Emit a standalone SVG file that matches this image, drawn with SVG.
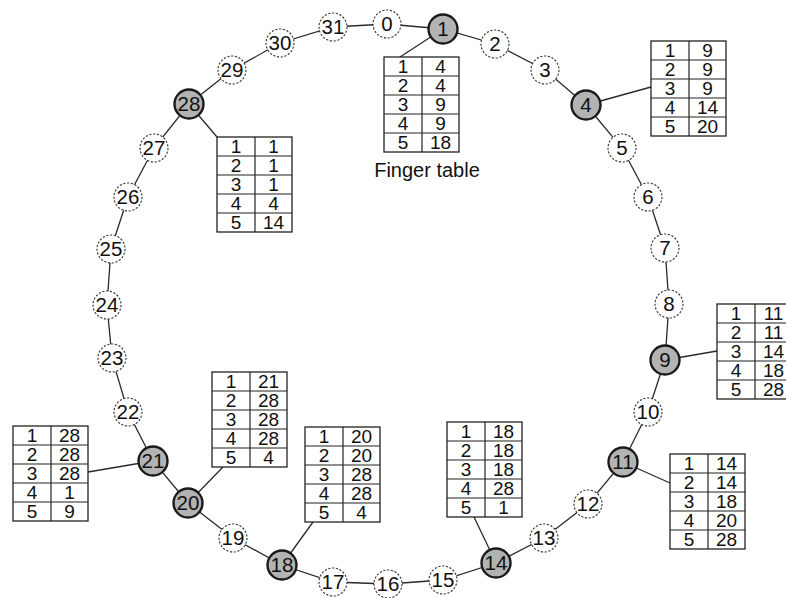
<svg xmlns="http://www.w3.org/2000/svg" width="786" height="598" viewBox="0 0 786 598">
<style>
.edge{stroke:#2a2a2a;stroke-width:1.3;fill:none}
.dn{fill:#fff;stroke:#333;stroke-width:1.1;stroke-dasharray:2.2 1.6}
.gn{fill:#b3b3b3;stroke:#1a1a1a;stroke-width:2.4}
.nl{font-family:"Liberation Sans",Arial,sans-serif;font-size:20.5px;fill:#111;text-anchor:middle}
.tb{fill:#fff;stroke:#222;stroke-width:1.3}
.tl{stroke:#222;stroke-width:1.2}
.tt{font-family:"Liberation Sans",Arial,sans-serif;font-size:19px;fill:#111;text-anchor:middle}
.cap{font-family:"Liberation Sans",Arial,sans-serif;font-size:20px;fill:#111;text-anchor:middle}
</style>
<defs>
<g id="grid">
<rect class="tb" x="0" y="0" width="75" height="95"/>
<line class="tl" x1="38" y1="0" x2="38" y2="95"/>
<line class="tl" x1="0" y1="19" x2="75" y2="19"/>
<line class="tl" x1="0" y1="38" x2="75" y2="38"/>
<line class="tl" x1="0" y1="57" x2="75" y2="57"/>
<line class="tl" x1="0" y1="76" x2="75" y2="76"/>
</g>
</defs>
<g id="connectors">
<polyline class="edge" points="387,24 443,29 495,44 545,70 586,105 622,148 648,197 665,248 669,304 665,360 648,412 623,462 588,504 544,538 496,563 443,580 388,584 333,582 282,565 233,538 188,503 153,461 128,412 112,358 107,305 111,249 128,197 154,148 189,104 232,70 280,43 333,27 387,24"/>
<line class="edge" x1="443" y1="29" x2="400" y2="57"/>
<line class="edge" x1="586" y1="105" x2="651" y2="87"/>
<line class="edge" x1="665" y1="360" x2="717" y2="351"/>
<line class="edge" x1="623" y1="462" x2="670" y2="483"/>
<line class="edge" x1="496" y1="563" x2="474" y2="517"/>
<line class="edge" x1="282" y1="565" x2="313" y2="522"/>
<line class="edge" x1="188" y1="503" x2="223" y2="467"/>
<line class="edge" x1="153" y1="461" x2="88" y2="472"/>
<line class="edge" x1="189" y1="104" x2="217" y2="137"/>
</g>
<g id="n0"><circle class="dn" cx="387" cy="24" r="14"/><text class="nl" x="387" y="31">0</text></g>
<g id="n1"><circle class="gn" cx="443" cy="29" r="14.5"/><text class="nl" x="443" y="36">1</text></g>
<g id="n2"><circle class="dn" cx="495" cy="44" r="14"/><text class="nl" x="495" y="51">2</text></g>
<g id="n3"><circle class="dn" cx="545" cy="70" r="14"/><text class="nl" x="545" y="77">3</text></g>
<g id="n4"><circle class="gn" cx="586" cy="105" r="14.5"/><text class="nl" x="586" y="112">4</text></g>
<g id="n5"><circle class="dn" cx="622" cy="148" r="14"/><text class="nl" x="622" y="155">5</text></g>
<g id="n6"><circle class="dn" cx="648" cy="197" r="14"/><text class="nl" x="648" y="204">6</text></g>
<g id="n7"><circle class="dn" cx="665" cy="248" r="14"/><text class="nl" x="665" y="255">7</text></g>
<g id="n8"><circle class="dn" cx="669" cy="304" r="14"/><text class="nl" x="669" y="311">8</text></g>
<g id="n9"><circle class="gn" cx="665" cy="360" r="14.5"/><text class="nl" x="665" y="367">9</text></g>
<g id="n10"><circle class="dn" cx="648" cy="412" r="14"/><text class="nl" x="648" y="419">10</text></g>
<g id="n11"><circle class="gn" cx="623" cy="462" r="14.5"/><text class="nl" x="623" y="469">11</text></g>
<g id="n12"><circle class="dn" cx="588" cy="504" r="14"/><text class="nl" x="588" y="511">12</text></g>
<g id="n13"><circle class="dn" cx="544" cy="538" r="14"/><text class="nl" x="544" y="545">13</text></g>
<g id="n14"><circle class="gn" cx="496" cy="563" r="14.5"/><text class="nl" x="496" y="570">14</text></g>
<g id="n15"><circle class="dn" cx="443" cy="580" r="14"/><text class="nl" x="443" y="587">15</text></g>
<g id="n16"><circle class="dn" cx="388" cy="584" r="14"/><text class="nl" x="388" y="591">16</text></g>
<g id="n17"><circle class="dn" cx="333" cy="582" r="14"/><text class="nl" x="333" y="589">17</text></g>
<g id="n18"><circle class="gn" cx="282" cy="565" r="14.5"/><text class="nl" x="282" y="572">18</text></g>
<g id="n19"><circle class="dn" cx="233" cy="538" r="14"/><text class="nl" x="233" y="545">19</text></g>
<g id="n20"><circle class="gn" cx="188" cy="503" r="14.5"/><text class="nl" x="188" y="510">20</text></g>
<g id="n21"><circle class="gn" cx="153" cy="461" r="14.5"/><text class="nl" x="153" y="468">21</text></g>
<g id="n22"><circle class="dn" cx="128" cy="412" r="14"/><text class="nl" x="128" y="419">22</text></g>
<g id="n23"><circle class="dn" cx="112" cy="358" r="14"/><text class="nl" x="112" y="365">23</text></g>
<g id="n24"><circle class="dn" cx="107" cy="305" r="14"/><text class="nl" x="107" y="312">24</text></g>
<g id="n25"><circle class="dn" cx="111" cy="249" r="14"/><text class="nl" x="111" y="256">25</text></g>
<g id="n26"><circle class="dn" cx="128" cy="197" r="14"/><text class="nl" x="128" y="204">26</text></g>
<g id="n27"><circle class="dn" cx="154" cy="148" r="14"/><text class="nl" x="154" y="155">27</text></g>
<g id="n28"><circle class="gn" cx="189" cy="104" r="14.5"/><text class="nl" x="189" y="111">28</text></g>
<g id="n29"><circle class="dn" cx="232" cy="70" r="14"/><text class="nl" x="232" y="77">29</text></g>
<g id="n30"><circle class="dn" cx="280" cy="43" r="14"/><text class="nl" x="280" y="50">30</text></g>
<g id="n31"><circle class="dn" cx="333" cy="27" r="14"/><text class="nl" x="333" y="34">31</text></g>

<g id="t1" transform="translate(384,57)"><use href="#grid"/>
<text class="tt" x="19" y="16">1</text><text class="tt" x="56.5" y="16">4</text>
<text class="tt" x="19" y="35">2</text><text class="tt" x="56.5" y="35">4</text>
<text class="tt" x="19" y="54">3</text><text class="tt" x="56.5" y="54">9</text>
<text class="tt" x="19" y="73">4</text><text class="tt" x="56.5" y="73">9</text>
<text class="tt" x="19" y="92">5</text><text class="tt" x="56.5" y="92">18</text>
</g>
<g id="caption"><text class="cap" x="427" y="177">Finger table</text></g>
<g id="t4" transform="translate(651,41)"><use href="#grid"/>
<text class="tt" x="19" y="16">1</text><text class="tt" x="56.5" y="16">9</text>
<text class="tt" x="19" y="35">2</text><text class="tt" x="56.5" y="35">9</text>
<text class="tt" x="19" y="54">3</text><text class="tt" x="56.5" y="54">9</text>
<text class="tt" x="19" y="73">4</text><text class="tt" x="56.5" y="73">14</text>
<text class="tt" x="19" y="92">5</text><text class="tt" x="56.5" y="92">20</text>
</g>
<g id="t9" transform="translate(717,304)"><use href="#grid"/>
<text class="tt" x="19" y="16">1</text><text class="tt" x="56.5" y="16">11</text>
<text class="tt" x="19" y="35">2</text><text class="tt" x="56.5" y="35">11</text>
<text class="tt" x="19" y="54">3</text><text class="tt" x="56.5" y="54">14</text>
<text class="tt" x="19" y="73">4</text><text class="tt" x="56.5" y="73">18</text>
<text class="tt" x="19" y="92">5</text><text class="tt" x="56.5" y="92">28</text>
</g>
<g id="t11" transform="translate(670,454)"><use href="#grid"/>
<text class="tt" x="19" y="16">1</text><text class="tt" x="56.5" y="16">14</text>
<text class="tt" x="19" y="35">2</text><text class="tt" x="56.5" y="35">14</text>
<text class="tt" x="19" y="54">3</text><text class="tt" x="56.5" y="54">18</text>
<text class="tt" x="19" y="73">4</text><text class="tt" x="56.5" y="73">20</text>
<text class="tt" x="19" y="92">5</text><text class="tt" x="56.5" y="92">28</text>
</g>
<g id="t14" transform="translate(447,422)"><use href="#grid"/>
<text class="tt" x="19" y="16">1</text><text class="tt" x="56.5" y="16">18</text>
<text class="tt" x="19" y="35">2</text><text class="tt" x="56.5" y="35">18</text>
<text class="tt" x="19" y="54">3</text><text class="tt" x="56.5" y="54">18</text>
<text class="tt" x="19" y="73">4</text><text class="tt" x="56.5" y="73">28</text>
<text class="tt" x="19" y="92">5</text><text class="tt" x="56.5" y="92">1</text>
</g>
<g id="t18" transform="translate(305,427)"><use href="#grid"/>
<text class="tt" x="19" y="16">1</text><text class="tt" x="56.5" y="16">20</text>
<text class="tt" x="19" y="35">2</text><text class="tt" x="56.5" y="35">20</text>
<text class="tt" x="19" y="54">3</text><text class="tt" x="56.5" y="54">28</text>
<text class="tt" x="19" y="73">4</text><text class="tt" x="56.5" y="73">28</text>
<text class="tt" x="19" y="92">5</text><text class="tt" x="56.5" y="92">4</text>
</g>
<g id="t20" transform="translate(212,372)"><use href="#grid"/>
<text class="tt" x="19" y="16">1</text><text class="tt" x="56.5" y="16">21</text>
<text class="tt" x="19" y="35">2</text><text class="tt" x="56.5" y="35">28</text>
<text class="tt" x="19" y="54">3</text><text class="tt" x="56.5" y="54">28</text>
<text class="tt" x="19" y="73">4</text><text class="tt" x="56.5" y="73">28</text>
<text class="tt" x="19" y="92">5</text><text class="tt" x="56.5" y="92">4</text>
</g>
<g id="t21" transform="translate(13,426)"><use href="#grid"/>
<text class="tt" x="19" y="16">1</text><text class="tt" x="56.5" y="16">28</text>
<text class="tt" x="19" y="35">2</text><text class="tt" x="56.5" y="35">28</text>
<text class="tt" x="19" y="54">3</text><text class="tt" x="56.5" y="54">28</text>
<text class="tt" x="19" y="73">4</text><text class="tt" x="56.5" y="73">1</text>
<text class="tt" x="19" y="92">5</text><text class="tt" x="56.5" y="92">9</text>
</g>
<g id="t28" transform="translate(217,137)"><use href="#grid"/>
<text class="tt" x="19" y="16">1</text><text class="tt" x="56.5" y="16">1</text>
<text class="tt" x="19" y="35">2</text><text class="tt" x="56.5" y="35">1</text>
<text class="tt" x="19" y="54">3</text><text class="tt" x="56.5" y="54">1</text>
<text class="tt" x="19" y="73">4</text><text class="tt" x="56.5" y="73">4</text>
<text class="tt" x="19" y="92">5</text><text class="tt" x="56.5" y="92">14</text>
</g>
</svg>
